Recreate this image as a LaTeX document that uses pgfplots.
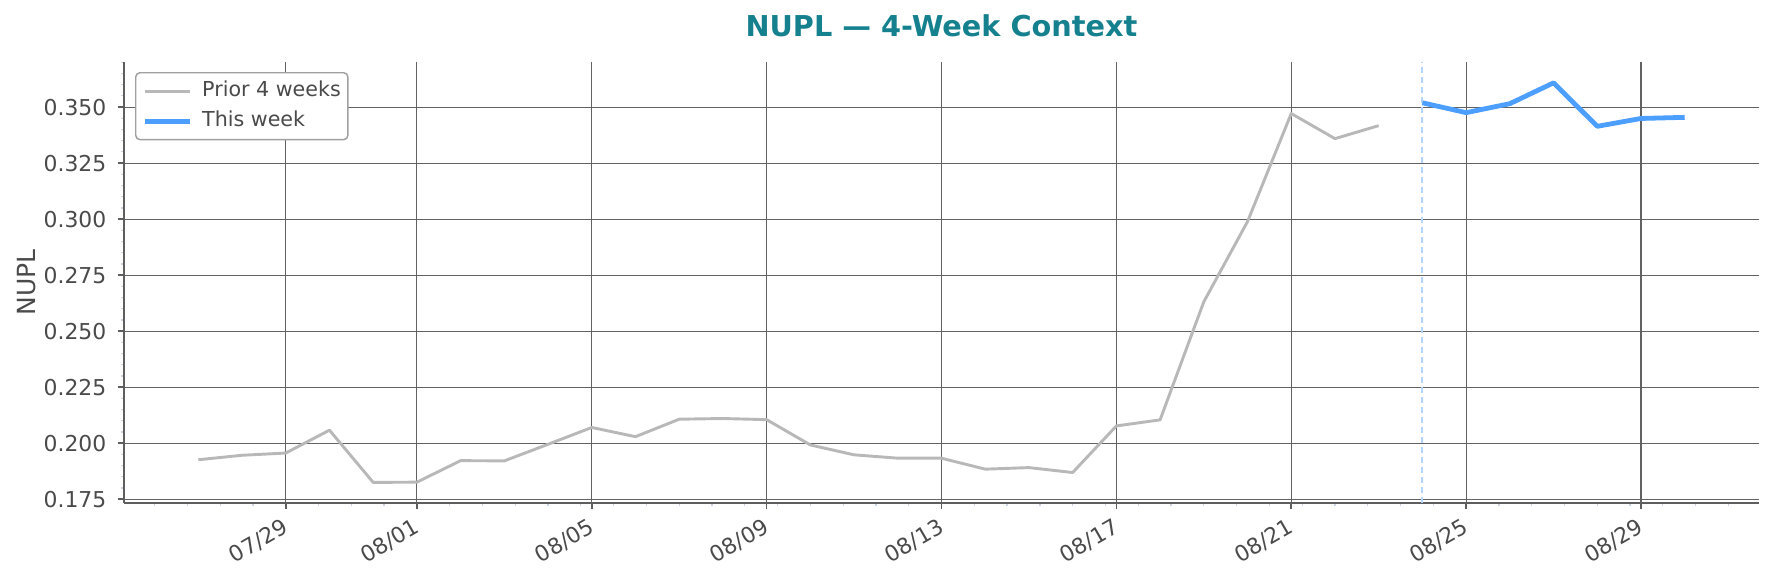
\documentclass[border=0pt]{standalone}
\usepackage{pgfplots}
\pgfplotsset{compat=1.18}
\usepackage{fontspec}
\setmainfont{DejaVu Sans}
\definecolor{textgray}{HTML}{4A4A4A}
\definecolor{gridgray}{HTML}{626262}
\definecolor{spinegray}{HTML}{5E5E5E}
\definecolor{minorgray}{HTML}{CCD5E2}
\definecolor{priorgray}{HTML}{B8B8B8}
\definecolor{weekblue}{HTML}{4C9EFF}
\definecolor{dashblue}{HTML}{B5D5FC}
\definecolor{titleteal}{HTML}{15818F}
\definecolor{legendedge}{HTML}{A0A0A0}
\begin{document}
\begin{tikzpicture}
\begin{axis}[
  at={(0,0)}, anchor=south west,
  scale only axis, width=784.8pt, height=211.68pt,
  xmin=-3.7, xmax=33.7, ymin=0.1733, ymax=0.3701,
  axis lines*=left,
  axis line style={-, draw=spinegray, line width=1pt},
  tick align=outside,
  major tick length=3pt, minor tick length=1.6pt,
  major tick style={draw=spinegray, line width=0.8pt},
  minor tick style={draw=minorgray, line width=0.6pt},
  grid=major,
  major grid style={draw=gridgray, line width=0.5pt},
  xtick={0,3,7,11,15,19,23,27,31},
  xticklabels={07/29,08/01,08/05,08/09,08/13,08/17,08/21,08/25,08/29},
  minor xtick={-3,-2.25,...,33},
  ytick={0.175,0.2,0.225,0.25,0.275,0.3,0.325,0.35},
  minor ytick={0.175,0.18,...,0.3705},
  scaled y ticks=false,
  /pgf/number format/assume math mode=true,
  yticklabel style={/pgf/number format/fixed, /pgf/number format/fixed zerofill, /pgf/number format/precision=3,
    font=\fontsize{10.5}{12}\selectfont, text=textgray, inner sep=0pt, anchor=east, xshift=-5.3pt},
  xticklabel style={font=\fontsize{10.5}{12}\selectfont, text=textgray, inner sep=0pt, anchor=north east,
    xshift=-2.0pt, yshift=-3.8pt, rotate=30},
  every axis y label/.style={at={(axis description cs:-0.0593,0.5)}, anchor=center, rotate=90,
    font=\fontsize{12}{14}\selectfont, text=textgray},
  ylabel={NUPL},
  every axis title/.style={at={(axis description cs:0.5,1)}, anchor=base, yshift=12.1pt,
    font=\bfseries\fontsize{13.8}{16}\selectfont, text=titleteal},
  title={NUPL — 4-Week Context},
  legend image code/.code={\draw[#1] (0pt,0pt) -- (21.6pt,0pt);},
  legend cell align=left,
  legend style={at={(axis description cs:0.00675,0.9773)}, anchor=north west,
    draw=legendedge, line width=0.7pt, rounded corners=2pt, fill=white,
    font=\fontsize{9.9}{12}\selectfont, text=textgray,
    inner xsep=3.4pt, inner ysep=4.1pt,
    nodes={inner sep=0pt, text height=7.5pt, text depth=2pt},
    row sep=4.9pt, column sep=4.6pt},
]
\addplot[dashblue, line width=0.9pt, dash pattern=on 2.9pt off 1.9pt, forget plot]
  coordinates {(26,0.1733) (26,0.3701)};
\addplot[priorgray, line width=1.4pt, line join=round] coordinates {
(-2,0.1926) (-1,0.1946) (0,0.1956) (1,0.2058) (2,0.1825) (3,0.1826)
(4,0.1922) (5,0.1921) (6,0.1995) (7,0.2070) (8,0.2029) (9,0.2107)
(10,0.2110) (11,0.2105) (12,0.1992) (13,0.1948) (14,0.1933) (15,0.1933)
(16,0.1884) (17,0.1891) (18,0.1869) (19,0.2077) (20,0.2104) (21,0.2631)
(22,0.2989) (23,0.3471) (24,0.3359) (25,0.3417)
};
\addlegendentry{Prior 4 weeks}
\addplot[weekblue, line width=2.3pt, line join=round] coordinates {
(26,0.3519) (27,0.3475) (28,0.3515) (29,0.3608) (30,0.3414) (31,0.3449) (32,0.3454)
};
\addlegendentry{This week}
\end{axis}
\pgfresetboundingbox
\path (-59.52pt,-35.04pt) rectangle (791.52pt,241.44pt);
\end{tikzpicture}
\end{document}
